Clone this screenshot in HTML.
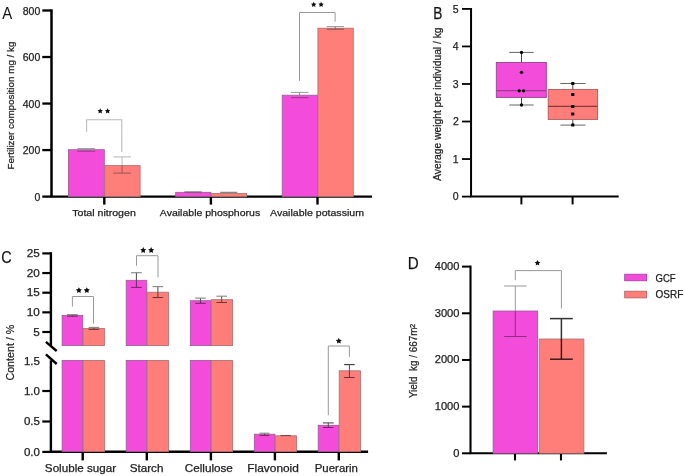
<!DOCTYPE html>
<html><head><meta charset="utf-8"><style>
html,body{margin:0;padding:0;background:#fff;}
svg{display:block;font-family:"Liberation Sans",sans-serif;will-change:transform;}
text{white-space:pre;stroke:#1e1e1e;stroke-width:0.25px;}
</style></head><body>
<svg width="685" height="476" viewBox="0 0 685 476">
<text x="2.36" y="18.90" font-size="15.6" fill="#111" textLength="9.97" lengthAdjust="spacingAndGlyphs" style="stroke-width:0">A</text>
<line x1="51.50" y1="9.35" x2="51.50" y2="196.60" stroke="#000" stroke-width="2.5"/>
<line x1="42.30" y1="196.60" x2="51.50" y2="196.60" stroke="#000" stroke-width="2.3"/>
<text x="34.47" y="200.80" font-size="10.5" fill="#1e1e1e" textLength="5.84" lengthAdjust="spacingAndGlyphs" style="">0</text>
<line x1="42.30" y1="150.07" x2="51.50" y2="150.07" stroke="#000" stroke-width="2.3"/>
<text x="22.79" y="154.27" font-size="10.5" fill="#1e1e1e" textLength="17.52" lengthAdjust="spacingAndGlyphs" style="">200</text>
<line x1="42.30" y1="103.55" x2="51.50" y2="103.55" stroke="#000" stroke-width="2.3"/>
<text x="22.79" y="107.75" font-size="10.5" fill="#1e1e1e" textLength="17.52" lengthAdjust="spacingAndGlyphs" style="">400</text>
<line x1="42.30" y1="57.03" x2="51.50" y2="57.03" stroke="#000" stroke-width="2.3"/>
<text x="22.79" y="61.23" font-size="10.5" fill="#1e1e1e" textLength="17.52" lengthAdjust="spacingAndGlyphs" style="">600</text>
<line x1="42.30" y1="10.50" x2="51.50" y2="10.50" stroke="#000" stroke-width="2.3"/>
<text x="22.79" y="14.70" font-size="10.5" fill="#1e1e1e" textLength="17.52" lengthAdjust="spacingAndGlyphs" style="">800</text>
<line x1="50.20" y1="196.60" x2="372.00" y2="196.60" stroke="#000" stroke-width="2.3"/>
<line x1="104.30" y1="196.60" x2="104.30" y2="204.60" stroke="#000" stroke-width="2.4"/>
<line x1="210.90" y1="196.60" x2="210.90" y2="204.60" stroke="#000" stroke-width="2.4"/>
<line x1="317.50" y1="196.60" x2="317.50" y2="204.60" stroke="#000" stroke-width="2.4"/>
<rect x="68.40" y="149.70" width="35.90" height="46.90" fill="#F34BDA" stroke="#9a5a94" stroke-width="0.8"/>
<rect x="104.70" y="165.60" width="35.40" height="31.00" fill="#FF7E7A" stroke="#a87070" stroke-width="0.8"/>
<rect x="175.70" y="192.30" width="35.20" height="4.30" fill="#F34BDA" stroke="#9a5a94" stroke-width="0.8"/>
<rect x="211.30" y="193.40" width="35.40" height="3.20" fill="#FF7E7A" stroke="#a87070" stroke-width="0.8"/>
<rect x="282.20" y="95.20" width="35.30" height="101.40" fill="#F34BDA" stroke="#9a5a94" stroke-width="0.8"/>
<rect x="317.90" y="28.20" width="35.40" height="168.40" fill="#FF7E7A" stroke="#a87070" stroke-width="0.8"/>
<line x1="86.25" y1="148.60" x2="86.25" y2="151.20" stroke="#888" stroke-width="1"/>
<line x1="77.25" y1="148.60" x2="95.25" y2="148.60" stroke="#999" stroke-width="1"/>
<line x1="77.25" y1="151.20" x2="95.25" y2="151.20" stroke="#8a3f80" stroke-width="1"/>
<line x1="122.10" y1="156.90" x2="122.10" y2="165.30" stroke="#bbb" stroke-width="1"/>
<line x1="113.30" y1="156.90" x2="130.90" y2="156.90" stroke="#bbb" stroke-width="1.1"/>
<line x1="122.10" y1="165.30" x2="122.10" y2="173.10" stroke="#9a5a58" stroke-width="1"/>
<line x1="113.30" y1="173.10" x2="130.90" y2="173.10" stroke="#9a5a58" stroke-width="1.1"/>
<line x1="184.50" y1="192.00" x2="201.80" y2="192.00" stroke="#555" stroke-width="1"/>
<line x1="220.20" y1="192.30" x2="237.30" y2="192.30" stroke="#666" stroke-width="1"/>
<line x1="299.60" y1="92.40" x2="299.60" y2="97.70" stroke="#888" stroke-width="1"/>
<line x1="291.00" y1="92.40" x2="308.40" y2="92.40" stroke="#999" stroke-width="1"/>
<line x1="291.00" y1="97.70" x2="308.40" y2="97.70" stroke="#8a3f80" stroke-width="1"/>
<line x1="335.30" y1="26.60" x2="335.30" y2="29.20" stroke="#777" stroke-width="1"/>
<line x1="326.70" y1="26.60" x2="344.00" y2="26.60" stroke="#999" stroke-width="1"/>
<line x1="326.70" y1="29.20" x2="344.00" y2="29.20" stroke="#8a5050" stroke-width="1"/>
<polyline points="86.6,131.7 86.6,119.8 121.8,119.8 121.8,152" fill="none" stroke="#bbb" stroke-width="1.1"/>
<polygon points="100.20,108.18 101.05,109.90 102.96,110.18 101.58,111.53 101.90,113.42 100.20,112.53 98.50,113.42 98.82,111.53 97.44,110.18 99.35,109.90" fill="#111"/>
<polygon points="107.60,108.18 108.45,109.90 110.36,110.18 108.98,111.53 109.30,113.42 107.60,112.53 105.90,113.42 106.22,111.53 104.84,110.18 106.75,109.90" fill="#111"/>
<polyline points="299.5,80.9 299.5,12.5 335.1,12.5 335.1,21.7" fill="none" stroke="#999" stroke-width="1"/>
<polygon points="313.70,1.68 314.55,3.40 316.46,3.68 315.08,5.02 315.40,6.92 313.70,6.03 312.00,6.92 312.32,5.03 310.94,3.68 312.85,3.40" fill="#111"/>
<polygon points="321.10,1.68 321.95,3.40 323.86,3.68 322.48,5.02 322.80,6.92 321.10,6.03 319.40,6.92 319.72,5.03 318.34,3.68 320.25,3.40" fill="#111"/>
<text x="72.26" y="215.70" font-size="9.8" fill="#1e1e1e" textLength="63.52" lengthAdjust="spacingAndGlyphs" style="">Total nitrogen</text>
<text x="159.87" y="215.70" font-size="9.8" fill="#1e1e1e" textLength="100.29" lengthAdjust="spacingAndGlyphs" style="">Available phosphorus</text>
<text x="270.07" y="215.70" font-size="9.8" fill="#1e1e1e" textLength="93.92" lengthAdjust="spacingAndGlyphs" style="">Available potassium</text>
<text transform="translate(13.80,169.41) rotate(-90)" font-size="9.6" fill="#1e1e1e" textLength="127.84" lengthAdjust="spacingAndGlyphs">Fertilizer composition mg / kg</text>
<text x="433.17" y="18.90" font-size="15.8" fill="#111" textLength="9.14" lengthAdjust="spacingAndGlyphs" style="">B</text>
<line x1="471.05" y1="8.00" x2="471.05" y2="196.60" stroke="#000" stroke-width="2.0"/>
<line x1="462.00" y1="196.60" x2="471.05" y2="196.60" stroke="#000" stroke-width="1.8"/>
<text x="452.77" y="200.30" font-size="10.5" fill="#1e1e1e" textLength="5.84" lengthAdjust="spacingAndGlyphs" style="">0</text>
<line x1="462.00" y1="159.06" x2="471.05" y2="159.06" stroke="#000" stroke-width="1.8"/>
<text x="452.87" y="162.76" font-size="10.5" fill="#1e1e1e" textLength="5.84" lengthAdjust="spacingAndGlyphs" style="">1</text>
<line x1="462.00" y1="121.52" x2="471.05" y2="121.52" stroke="#000" stroke-width="1.8"/>
<text x="452.90" y="125.22" font-size="10.5" fill="#1e1e1e" textLength="5.84" lengthAdjust="spacingAndGlyphs" style="">2</text>
<line x1="462.00" y1="83.98" x2="471.05" y2="83.98" stroke="#000" stroke-width="1.8"/>
<text x="452.82" y="87.68" font-size="10.5" fill="#1e1e1e" textLength="5.84" lengthAdjust="spacingAndGlyphs" style="">3</text>
<line x1="462.00" y1="46.44" x2="471.05" y2="46.44" stroke="#000" stroke-width="1.8"/>
<text x="452.66" y="50.14" font-size="10.5" fill="#1e1e1e" textLength="5.84" lengthAdjust="spacingAndGlyphs" style="">4</text>
<line x1="462.00" y1="8.90" x2="471.05" y2="8.90" stroke="#000" stroke-width="1.8"/>
<text x="452.79" y="12.60" font-size="10.5" fill="#1e1e1e" textLength="5.84" lengthAdjust="spacingAndGlyphs" style="">5</text>
<line x1="470.10" y1="196.60" x2="618.70" y2="196.60" stroke="#000" stroke-width="2.0"/>
<line x1="521.40" y1="196.60" x2="521.40" y2="204.40" stroke="#000" stroke-width="2.0"/>
<line x1="572.60" y1="196.60" x2="572.60" y2="204.40" stroke="#000" stroke-width="2.0"/>
<line x1="521.50" y1="52.40" x2="521.50" y2="105.00" stroke="#333" stroke-width="0.9"/>
<line x1="509.30" y1="52.40" x2="533.70" y2="52.40" stroke="#555" stroke-width="0.9"/>
<line x1="509.30" y1="105.00" x2="533.70" y2="105.00" stroke="#555" stroke-width="0.9"/>
<rect x="496.30" y="62.50" width="50.00" height="34.90" fill="#F34BDA" stroke="#9a3f8f" stroke-width="0.9"/>
<line x1="496.30" y1="90.60" x2="546.30" y2="90.60" stroke="#9a3f8f" stroke-width="1.3"/>
<circle cx="521.5" cy="52.4" r="1.65" fill="#000"/>
<circle cx="521.5" cy="72.3" r="1.65" fill="#000"/>
<circle cx="519.2" cy="90.8" r="1.65" fill="#000"/>
<circle cx="523.6" cy="90.8" r="1.65" fill="#000"/>
<circle cx="521.5" cy="105" r="1.65" fill="#000"/>
<line x1="572.80" y1="83.50" x2="572.80" y2="125.10" stroke="#333" stroke-width="0.9"/>
<line x1="560.40" y1="83.50" x2="585.60" y2="83.50" stroke="#555" stroke-width="0.9"/>
<line x1="560.40" y1="125.10" x2="585.60" y2="125.10" stroke="#555" stroke-width="0.9"/>
<rect x="548.20" y="89.40" width="49.40" height="30.00" fill="#FF7E7A" stroke="#b05858" stroke-width="0.9"/>
<line x1="548.20" y1="106.40" x2="597.60" y2="106.40" stroke="#8a3838" stroke-width="1.2"/>
<rect x="571.1999999999999" y="82.0" width="3.2" height="3.0" rx="0.5" fill="#000"/>
<rect x="571.1999999999999" y="93.1" width="3.2" height="3.0" rx="0.5" fill="#000"/>
<rect x="571.1999999999999" y="104.9" width="3.2" height="3.0" rx="0.5" fill="#000"/>
<rect x="571.1999999999999" y="112.5" width="3.2" height="3.0" rx="0.5" fill="#000"/>
<rect x="571.1999999999999" y="123.6" width="3.2" height="3.0" rx="0.5" fill="#000"/>
<text transform="translate(441.20,180.83) rotate(-90)" font-size="10.4" fill="#1e1e1e" textLength="153.37" lengthAdjust="spacingAndGlyphs">Average weight per individual / kg</text>
<text x="1.18" y="262.90" font-size="16.8" fill="#111" textLength="10.46" lengthAdjust="spacingAndGlyphs" style="">C</text>
<line x1="50.90" y1="252.20" x2="50.90" y2="345.50" stroke="#000" stroke-width="2.4"/>
<line x1="50.90" y1="360.30" x2="50.90" y2="451.90" stroke="#000" stroke-width="2.4"/>
<line x1="45.90" y1="341.80" x2="56.70" y2="351.00" stroke="#000" stroke-width="2.4"/>
<line x1="45.90" y1="354.40" x2="56.70" y2="364.00" stroke="#000" stroke-width="2.4"/>
<line x1="42.30" y1="253.40" x2="50.90" y2="253.40" stroke="#000" stroke-width="2.2"/>
<text x="26.84" y="257.00" font-size="10.3" fill="#1e1e1e" textLength="13.06" lengthAdjust="spacingAndGlyphs" style="">25</text>
<line x1="42.30" y1="273.05" x2="50.90" y2="273.05" stroke="#000" stroke-width="2.2"/>
<text x="26.81" y="276.65" font-size="10.3" fill="#1e1e1e" textLength="13.06" lengthAdjust="spacingAndGlyphs" style="">20</text>
<line x1="42.30" y1="292.70" x2="50.90" y2="292.70" stroke="#000" stroke-width="2.2"/>
<text x="26.84" y="296.30" font-size="10.3" fill="#1e1e1e" textLength="13.06" lengthAdjust="spacingAndGlyphs" style="">15</text>
<line x1="42.30" y1="312.35" x2="50.90" y2="312.35" stroke="#000" stroke-width="2.2"/>
<text x="26.81" y="315.95" font-size="10.3" fill="#1e1e1e" textLength="13.06" lengthAdjust="spacingAndGlyphs" style="">10</text>
<line x1="42.30" y1="332.00" x2="50.90" y2="332.00" stroke="#000" stroke-width="2.2"/>
<text x="33.35" y="335.60" font-size="10.3" fill="#1e1e1e" textLength="6.53" lengthAdjust="spacingAndGlyphs" style="">5</text>
<text x="23.93" y="364.60" font-size="10.3" fill="#1e1e1e" textLength="16.04" lengthAdjust="spacingAndGlyphs" style="">1.5</text>
<line x1="42.30" y1="391.00" x2="50.90" y2="391.00" stroke="#000" stroke-width="2.2"/>
<text x="23.90" y="394.60" font-size="10.3" fill="#1e1e1e" textLength="16.04" lengthAdjust="spacingAndGlyphs" style="">1.0</text>
<line x1="42.30" y1="421.50" x2="50.90" y2="421.50" stroke="#000" stroke-width="2.2"/>
<text x="23.93" y="425.10" font-size="10.3" fill="#1e1e1e" textLength="16.04" lengthAdjust="spacingAndGlyphs" style="">0.5</text>
<line x1="42.30" y1="451.90" x2="50.90" y2="451.90" stroke="#000" stroke-width="2.2"/>
<text x="23.90" y="455.50" font-size="10.3" fill="#1e1e1e" textLength="16.04" lengthAdjust="spacingAndGlyphs" style="">0.0</text>
<line x1="49.70" y1="451.70" x2="368.10" y2="451.70" stroke="#000" stroke-width="2.4"/>
<line x1="82.70" y1="451.70" x2="82.70" y2="460.40" stroke="#000" stroke-width="2.4"/>
<line x1="146.80" y1="451.70" x2="146.80" y2="460.40" stroke="#000" stroke-width="2.4"/>
<line x1="210.90" y1="451.70" x2="210.90" y2="460.40" stroke="#000" stroke-width="2.4"/>
<line x1="274.90" y1="451.70" x2="274.90" y2="460.40" stroke="#000" stroke-width="2.4"/>
<line x1="338.80" y1="451.70" x2="338.80" y2="460.40" stroke="#000" stroke-width="2.4"/>
<rect x="62.10" y="315.40" width="20.60" height="30.20" fill="#F34BDA" stroke="#9a5a94" stroke-width="0.8"/>
<rect x="83.10" y="328.40" width="21.30" height="17.20" fill="#FF7E7A" stroke="#a87070" stroke-width="0.8"/>
<rect x="62.10" y="360.40" width="20.60" height="91.30" fill="#F34BDA" stroke="#9a5a94" stroke-width="0.8"/>
<rect x="83.10" y="360.40" width="21.30" height="91.30" fill="#FF7E7A" stroke="#a87070" stroke-width="0.8"/>
<rect x="126.20" y="280.30" width="20.60" height="65.30" fill="#F34BDA" stroke="#9a5a94" stroke-width="0.8"/>
<rect x="147.20" y="292.20" width="21.30" height="53.40" fill="#FF7E7A" stroke="#a87070" stroke-width="0.8"/>
<rect x="126.20" y="360.40" width="20.60" height="91.30" fill="#F34BDA" stroke="#9a5a94" stroke-width="0.8"/>
<rect x="147.20" y="360.40" width="21.30" height="91.30" fill="#FF7E7A" stroke="#a87070" stroke-width="0.8"/>
<rect x="190.30" y="300.70" width="20.60" height="44.90" fill="#F34BDA" stroke="#9a5a94" stroke-width="0.8"/>
<rect x="211.30" y="299.70" width="21.30" height="45.90" fill="#FF7E7A" stroke="#a87070" stroke-width="0.8"/>
<rect x="190.30" y="360.40" width="20.60" height="91.30" fill="#F34BDA" stroke="#9a5a94" stroke-width="0.8"/>
<rect x="211.30" y="360.40" width="21.30" height="91.30" fill="#FF7E7A" stroke="#a87070" stroke-width="0.8"/>
<rect x="254.30" y="434.20" width="20.60" height="17.50" fill="#F34BDA" stroke="#9a5a94" stroke-width="0.8"/>
<rect x="275.30" y="435.80" width="21.30" height="15.90" fill="#FF7E7A" stroke="#a87070" stroke-width="0.8"/>
<rect x="318.20" y="425.30" width="20.60" height="26.40" fill="#F34BDA" stroke="#9a5a94" stroke-width="0.8"/>
<rect x="339.20" y="370.80" width="21.30" height="80.90" fill="#FF7E7A" stroke="#a87070" stroke-width="0.8"/>
<line x1="72.40" y1="314.60" x2="72.40" y2="315.40" stroke="#4a4a4a" stroke-width="1"/>
<line x1="67.10" y1="314.60" x2="77.70" y2="314.60" stroke="#8a8a8a" stroke-width="1.15"/>
<line x1="72.40" y1="315.40" x2="72.40" y2="316.20" stroke="#6e2766" stroke-width="1"/>
<line x1="67.10" y1="316.20" x2="77.70" y2="316.20" stroke="#6e2766" stroke-width="1"/>
<line x1="93.90" y1="327.40" x2="93.90" y2="328.40" stroke="#4a4a4a" stroke-width="1"/>
<line x1="88.60" y1="327.40" x2="99.20" y2="327.40" stroke="#8a8a8a" stroke-width="1.15"/>
<line x1="93.90" y1="328.40" x2="93.90" y2="329.40" stroke="#6e3434" stroke-width="1"/>
<line x1="88.60" y1="329.40" x2="99.20" y2="329.40" stroke="#6e3434" stroke-width="1"/>
<line x1="136.40" y1="272.70" x2="136.40" y2="280.30" stroke="#4a4a4a" stroke-width="1"/>
<line x1="131.10" y1="272.70" x2="141.70" y2="272.70" stroke="#8a8a8a" stroke-width="1.15"/>
<line x1="136.40" y1="280.30" x2="136.40" y2="287.40" stroke="#6e2766" stroke-width="1"/>
<line x1="131.10" y1="287.40" x2="141.70" y2="287.40" stroke="#6e2766" stroke-width="1"/>
<line x1="157.90" y1="286.60" x2="157.90" y2="292.20" stroke="#4a4a4a" stroke-width="1"/>
<line x1="152.60" y1="286.60" x2="163.20" y2="286.60" stroke="#8a8a8a" stroke-width="1.15"/>
<line x1="157.90" y1="292.20" x2="157.90" y2="297.50" stroke="#6e3434" stroke-width="1"/>
<line x1="152.60" y1="297.50" x2="163.20" y2="297.50" stroke="#6e3434" stroke-width="1"/>
<line x1="200.50" y1="298.10" x2="200.50" y2="300.70" stroke="#4a4a4a" stroke-width="1"/>
<line x1="195.20" y1="298.10" x2="205.80" y2="298.10" stroke="#8a8a8a" stroke-width="1.15"/>
<line x1="200.50" y1="300.70" x2="200.50" y2="303.30" stroke="#6e2766" stroke-width="1"/>
<line x1="195.20" y1="303.30" x2="205.80" y2="303.30" stroke="#6e2766" stroke-width="1"/>
<line x1="221.70" y1="296.20" x2="221.70" y2="299.70" stroke="#4a4a4a" stroke-width="1"/>
<line x1="216.40" y1="296.20" x2="227.00" y2="296.20" stroke="#8a8a8a" stroke-width="1.15"/>
<line x1="221.70" y1="299.70" x2="221.70" y2="302.50" stroke="#6e3434" stroke-width="1"/>
<line x1="216.40" y1="302.50" x2="227.00" y2="302.50" stroke="#6e3434" stroke-width="1"/>
<line x1="264.50" y1="433.20" x2="264.50" y2="434.20" stroke="#4a4a4a" stroke-width="1"/>
<line x1="259.50" y1="433.20" x2="269.50" y2="433.20" stroke="#8a8a8a" stroke-width="1.15"/>
<line x1="264.50" y1="434.20" x2="264.50" y2="435.40" stroke="#6e2766" stroke-width="1"/>
<line x1="259.50" y1="435.40" x2="269.50" y2="435.40" stroke="#6e2766" stroke-width="1"/>
<line x1="280.50" y1="435.60" x2="291.00" y2="435.60" stroke="#6e3434" stroke-width="0.9"/>
<line x1="328.30" y1="422.90" x2="328.30" y2="425.30" stroke="#4a4a4a" stroke-width="1"/>
<line x1="323.00" y1="422.90" x2="333.60" y2="422.90" stroke="#555" stroke-width="1.15"/>
<line x1="328.30" y1="425.30" x2="328.30" y2="427.50" stroke="#6e2766" stroke-width="1"/>
<line x1="323.00" y1="427.50" x2="333.60" y2="427.50" stroke="#6e2766" stroke-width="1"/>
<line x1="349.40" y1="364.60" x2="349.40" y2="370.80" stroke="#4a4a4a" stroke-width="1"/>
<line x1="344.10" y1="364.60" x2="354.70" y2="364.60" stroke="#444" stroke-width="1.15"/>
<line x1="349.40" y1="370.80" x2="349.40" y2="377.50" stroke="#6e3434" stroke-width="1"/>
<line x1="344.10" y1="377.50" x2="354.70" y2="377.50" stroke="#6e3434" stroke-width="1"/>
<polyline points="72.4,306.5 72.4,296.5 93.5,296.5 93.5,323.6" fill="none" stroke="#999" stroke-width="1"/>
<polygon points="78.90,287.21 79.84,289.11 81.94,289.42 80.42,290.90 80.78,292.99 78.90,292.01 77.02,292.99 77.38,290.90 75.86,289.42 77.96,289.11" fill="#111"/>
<polygon points="86.80,287.21 87.74,289.11 89.84,289.42 88.32,290.90 88.68,292.99 86.80,292.01 84.92,292.99 85.28,290.90 83.76,289.42 85.86,289.11" fill="#111"/>
<polyline points="136.5,265.8 136.5,255.7 158,255.7 158,277.3" fill="none" stroke="#999" stroke-width="1"/>
<polygon points="143.25,247.11 144.19,249.01 146.29,249.32 144.77,250.80 145.13,252.89 143.25,251.91 141.37,252.89 141.73,250.80 140.21,249.32 142.31,249.01" fill="#111"/>
<polygon points="151.15,247.11 152.09,249.01 154.19,249.32 152.67,250.80 153.03,252.89 151.15,251.91 149.27,252.89 149.63,250.80 148.11,249.32 150.21,249.01" fill="#111"/>
<polyline points="328.3,415.2 328.3,346 349.4,346 349.4,356.7" fill="none" stroke="#999" stroke-width="1"/>
<polygon points="338.80,337.81 339.74,339.71 341.84,340.02 340.32,341.50 340.68,343.59 338.80,342.61 336.92,343.59 337.28,341.50 335.76,340.02 337.86,339.71" fill="#111"/>
<text x="44.88" y="472.00" font-size="10.6" fill="#1e1e1e" textLength="71.20" lengthAdjust="spacingAndGlyphs" style="">Soluble sugar</text>
<text x="129.67" y="472.00" font-size="10.6" fill="#1e1e1e" textLength="33.76" lengthAdjust="spacingAndGlyphs" style="">Starch</text>
<text x="184.71" y="472.00" font-size="10.6" fill="#1e1e1e" textLength="48.19" lengthAdjust="spacingAndGlyphs" style="">Cellulose</text>
<text x="247.32" y="472.00" font-size="10.6" fill="#1e1e1e" textLength="51.54" lengthAdjust="spacingAndGlyphs" style="">Flavonoid</text>
<text x="314.76" y="472.00" font-size="10.6" fill="#1e1e1e" textLength="43.18" lengthAdjust="spacingAndGlyphs" style="">Puerarin</text>
<text transform="translate(13.60,380.53) rotate(-90)" font-size="11" fill="#1e1e1e" textLength="55.81" lengthAdjust="spacingAndGlyphs">Content / %</text>
<text x="407.85" y="269.00" font-size="16.8" fill="#111" textLength="10.97" lengthAdjust="spacingAndGlyphs" style="">D</text>
<line x1="470.50" y1="265.60" x2="470.50" y2="453.30" stroke="#000" stroke-width="2.1"/>
<line x1="462.00" y1="453.30" x2="470.50" y2="453.30" stroke="#000" stroke-width="2.0"/>
<text x="453.25" y="456.80" font-size="10.2" fill="#1e1e1e" textLength="6.18" lengthAdjust="spacingAndGlyphs" style="">0</text>
<line x1="462.00" y1="406.62" x2="470.50" y2="406.62" stroke="#000" stroke-width="2.0"/>
<text x="434.71" y="410.12" font-size="10.2" fill="#1e1e1e" textLength="24.73" lengthAdjust="spacingAndGlyphs" style="">1000</text>
<line x1="462.00" y1="359.95" x2="470.50" y2="359.95" stroke="#000" stroke-width="2.0"/>
<text x="434.71" y="363.45" font-size="10.2" fill="#1e1e1e" textLength="24.73" lengthAdjust="spacingAndGlyphs" style="">2000</text>
<line x1="462.00" y1="313.28" x2="470.50" y2="313.28" stroke="#000" stroke-width="2.0"/>
<text x="434.71" y="316.78" font-size="10.2" fill="#1e1e1e" textLength="24.73" lengthAdjust="spacingAndGlyphs" style="">3000</text>
<line x1="462.00" y1="266.60" x2="470.50" y2="266.60" stroke="#000" stroke-width="2.0"/>
<text x="434.71" y="270.10" font-size="10.2" fill="#1e1e1e" textLength="24.73" lengthAdjust="spacingAndGlyphs" style="">4000</text>
<line x1="469.40" y1="453.30" x2="606.90" y2="453.30" stroke="#000" stroke-width="2.0"/>
<line x1="515.00" y1="453.30" x2="515.00" y2="460.40" stroke="#000" stroke-width="2.1"/>
<line x1="561.00" y1="453.30" x2="561.00" y2="460.40" stroke="#000" stroke-width="2.1"/>
<rect x="493.10" y="311.00" width="44.50" height="142.30" fill="#F34BDA" stroke="#9a5a94" stroke-width="0.8"/>
<rect x="539.20" y="339.00" width="44.70" height="114.30" fill="#FF7E7A" stroke="#a87070" stroke-width="0.8"/>
<line x1="515.30" y1="286.00" x2="515.30" y2="311.00" stroke="#999" stroke-width="1"/>
<line x1="504.20" y1="286.00" x2="526.60" y2="286.00" stroke="#999" stroke-width="1"/>
<line x1="515.30" y1="311.00" x2="515.30" y2="336.50" stroke="#8a3080" stroke-width="1"/>
<line x1="504.20" y1="336.50" x2="526.60" y2="336.50" stroke="#8a3080" stroke-width="1"/>
<line x1="561.40" y1="318.60" x2="561.40" y2="339.00" stroke="#333" stroke-width="1.5"/>
<line x1="550.00" y1="318.60" x2="572.80" y2="318.60" stroke="#333" stroke-width="1.5"/>
<line x1="561.40" y1="339.00" x2="561.40" y2="359.20" stroke="#3a1c1c" stroke-width="1.5"/>
<line x1="550.00" y1="359.20" x2="572.80" y2="359.20" stroke="#3a1c1c" stroke-width="1.5"/>
<polyline points="515.3,280.2 515.3,270.6 561.4,270.6 561.4,308.5" fill="none" stroke="#999" stroke-width="1"/>
<polygon points="537.50,260.09 538.38,261.87 540.35,262.16 538.93,263.55 539.26,265.51 537.50,264.59 535.74,265.51 536.07,263.55 534.65,262.16 536.62,261.87" fill="#111"/>
<rect x="624.70" y="274.20" width="21.90" height="6.60" fill="#F34BDA" stroke="#a040a0" stroke-width="0.8"/>
<rect x="624.70" y="291.20" width="21.90" height="6.70" fill="#FF7E7A" stroke="#b06060" stroke-width="0.8"/>
<text x="655.52" y="281.80" font-size="10.2" fill="#1e1e1e" textLength="20.17" lengthAdjust="spacingAndGlyphs" style="">GCF</text>
<text x="655.52" y="298.00" font-size="10.2" fill="#1e1e1e" textLength="27.78" lengthAdjust="spacingAndGlyphs" style="">OSRF</text>
<text transform="translate(416.60,398.12) rotate(-90)" font-size="10.9" fill="#1e1e1e" textLength="70.68" lengthAdjust="spacingAndGlyphs">Yield  kg / 667m</text>
<text transform="translate(414.6,327.9) rotate(-90)" font-size="7.6" fill="#1e1e1e">2</text>
</svg>
</body></html>
